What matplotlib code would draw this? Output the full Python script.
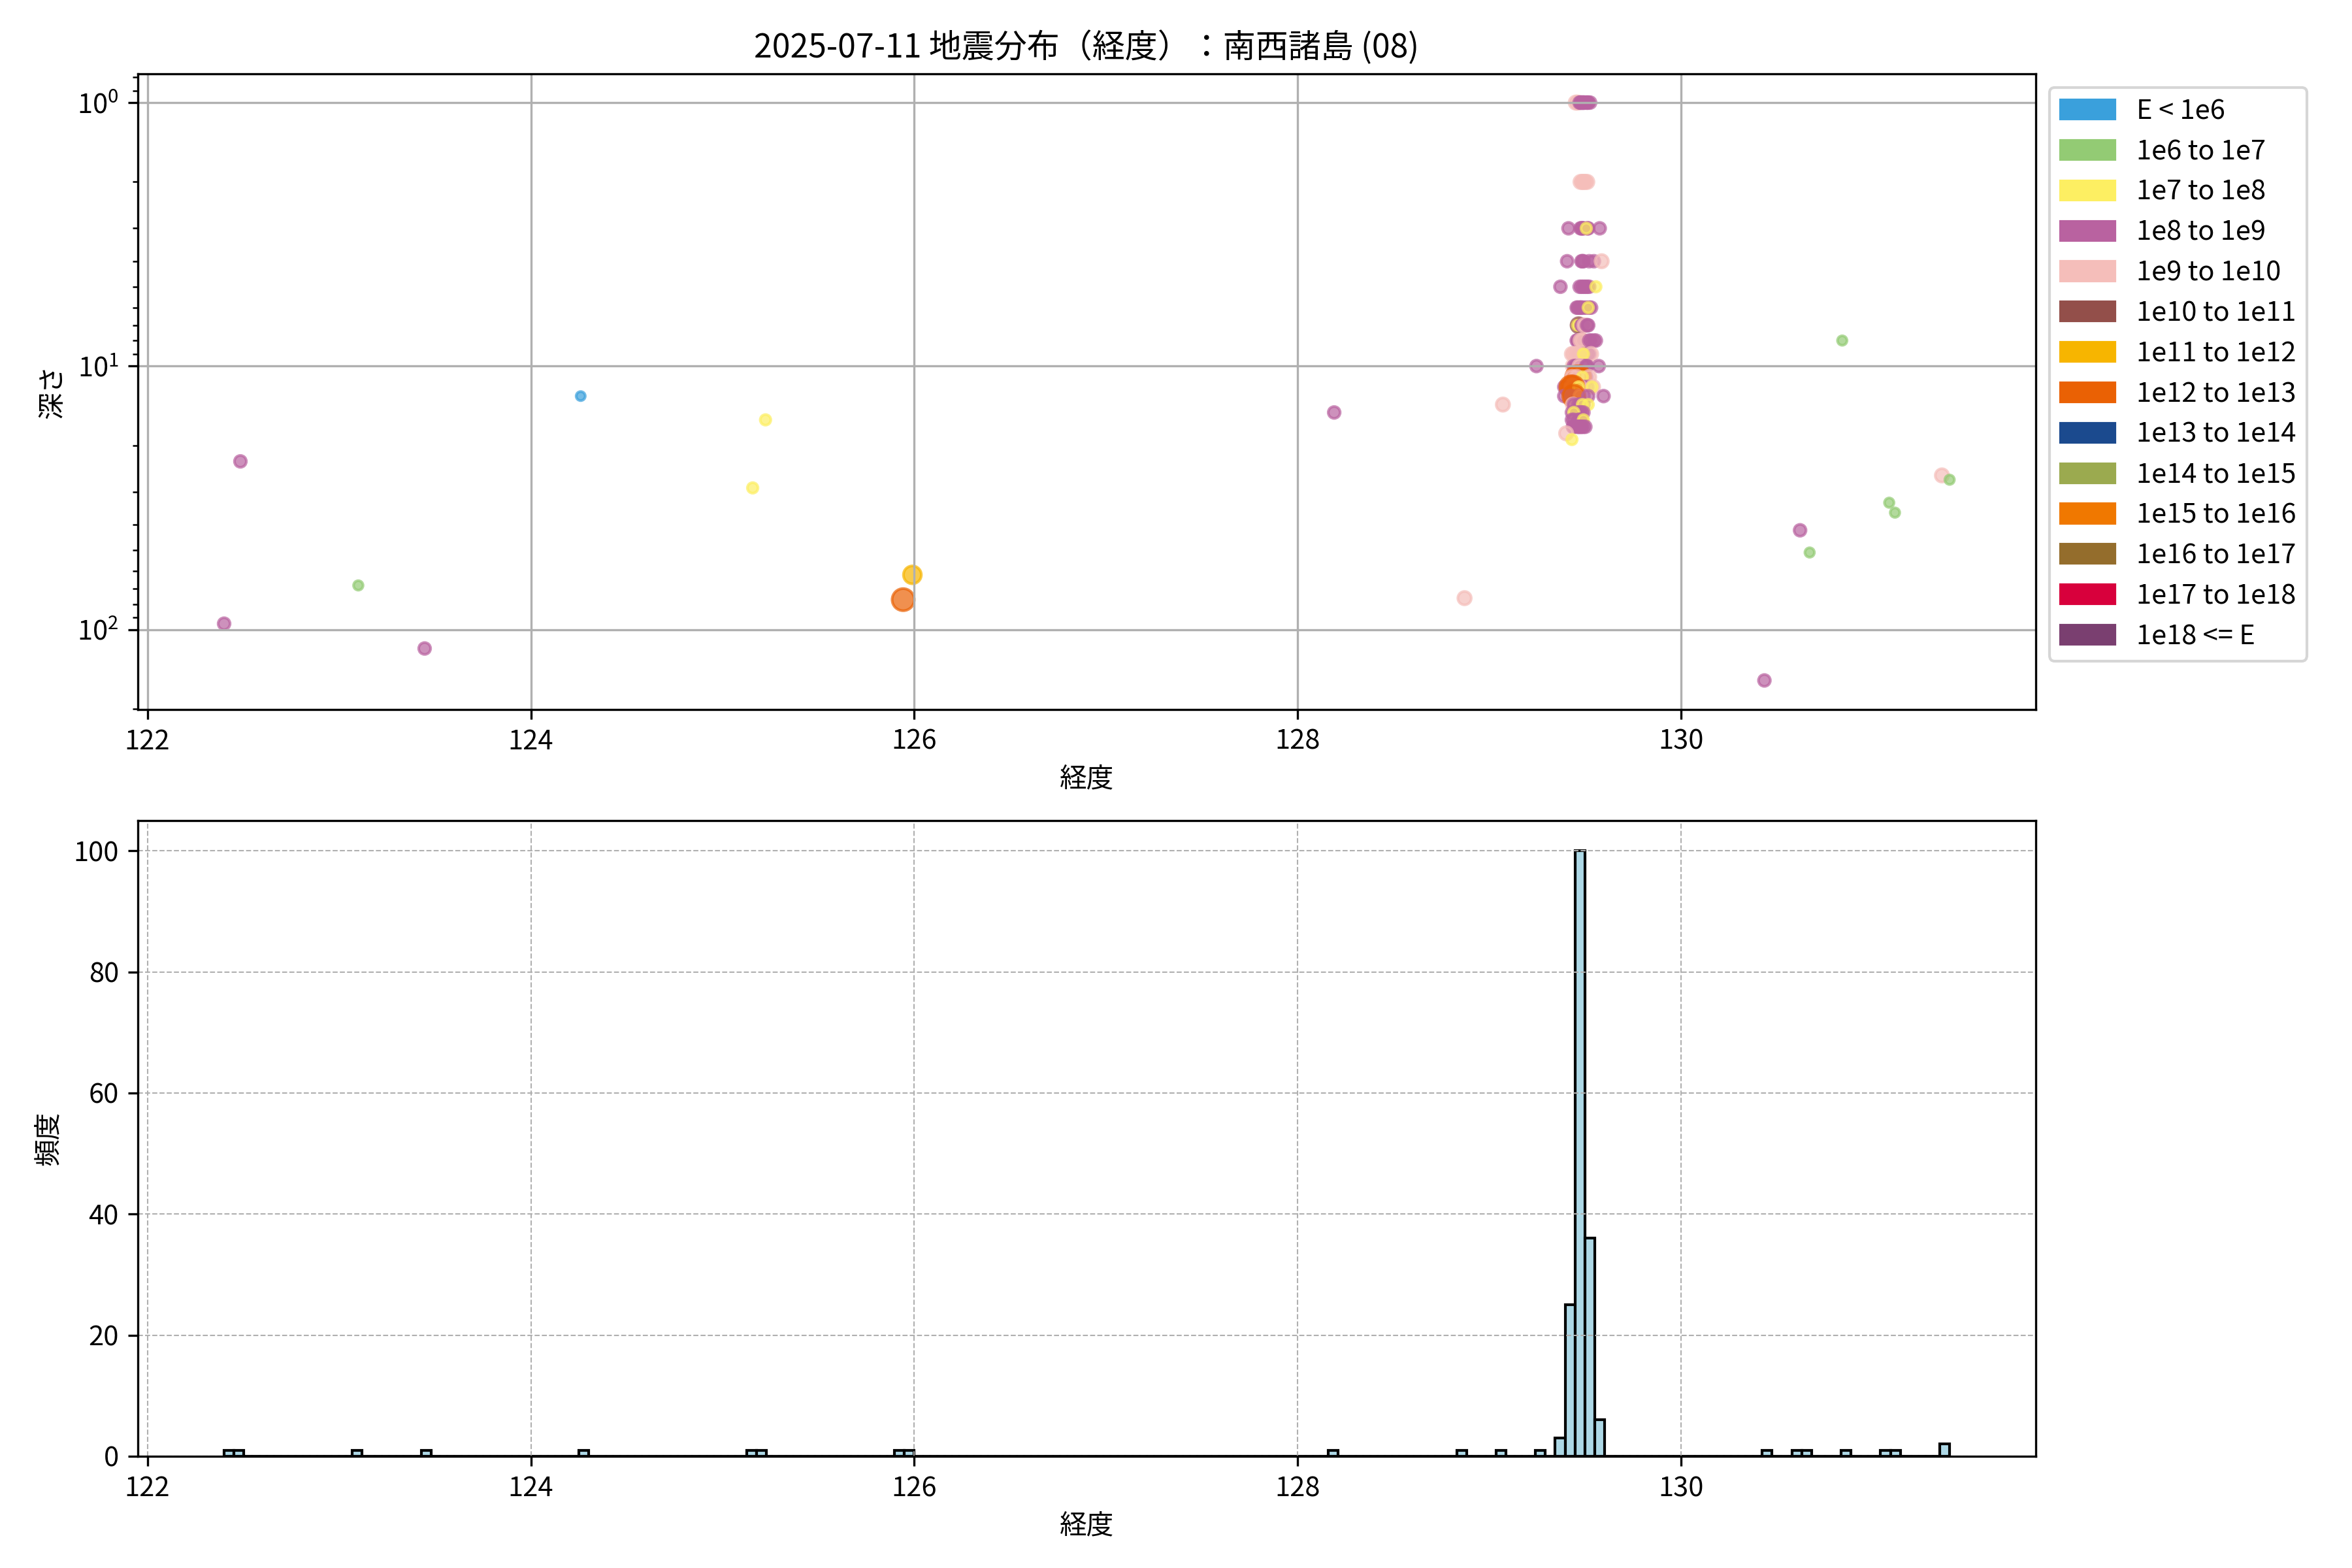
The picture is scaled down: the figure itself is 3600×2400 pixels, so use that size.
#Depth vs longitude scatter and longitude histogram for one day of quakes
import matplotlib
matplotlib.use('Agg')
import matplotlib.pyplot as plt
import matplotlib.patches as mpatches

plt.rcParams['font.family'] = ['Noto Sans CJK JP', 'DejaVu Sans']
plt.rcParams['mathtext.fontset'] = 'custom'
plt.rcParams['mathtext.rm'] = 'Noto Sans CJK JP'

title = '2025-07-11 地震分布（経度）：南西諸島 (08)'

# energy classes (index into these lists)
class_labels = ['E < 1e6', '1e6 to 1e7', '1e7 to 1e8', '1e8 to 1e9', '1e9 to 1e10',
                '1e10 to 1e11', '1e11 to 1e12', '1e12 to 1e13', '1e13 to 1e14',
                '1e14 to 1e15', '1e15 to 1e16', '1e16 to 1e17', '1e17 to 1e18', '1e18 <= E']
class_colors = ['#3aa0dc', '#93cb74', '#fdef62', '#b962a0', '#f5beba', '#934f4a', '#f7b500',
                '#ea6104', '#1b4a8e', '#9baa4f', '#f07800', '#946d2c', '#d8003c', '#7a3f70']
class_sizes = [11, 12, 15, 19, 24, 31, 43, 66, 80, 95, 110, 130, 150, 170]

# events away from the main cluster
out_lon = [122.40, 122.485, 123.10, 123.446, 124.26, 125.224, 125.157, 125.99, 125.942,
           128.19, 128.87, 129.07, 129.245, 130.434, 130.62, 130.67, 130.84,
           131.085, 131.115, 131.36, 131.40]
out_dep = [95, 23, 68, 118, 13, 16, 29, 62, 77,
           15, 76, 14, 10, 156, 42, 51, 8,
           33, 36, 26, 27]
out_cls = [3, 3, 1, 3, 0, 2, 2, 6, 7,
           3, 4, 4, 3, 3, 3, 1, 1,
           1, 1, 4, 1]

# main cluster, written row by row (depth in km)
clu_lon = [
    129.45, 129.46, 129.475, 129.48, 129.485, 129.49, 129.495, 129.47, 129.48, 129.49, 129.505, 129.515, 129.525, 129.51,
    129.475, 129.485, 129.50, 129.51, 129.49,
    129.412, 129.475, 129.48, 129.485, 129.49, 129.51, 129.515, 129.575, 129.505,
    129.405, 129.48, 129.485, 129.49, 129.52, 129.545, 129.585,
    129.37, 129.47, 129.48, 129.49, 129.50, 129.51, 129.52, 129.555,
    129.455, 129.46, 129.47, 129.475, 129.48, 129.49, 129.505, 129.52, 129.53, 129.515,
    129.465, 129.46, 129.47, 129.48, 129.485, 129.49, 129.495, 129.51, 129.515,
    129.455, 129.46, 129.465, 129.47, 129.48, 129.49, 129.475, 129.485, 129.52, 129.53, 129.545, 129.555,
    129.465, 129.47, 129.48, 129.485, 129.49, 129.51, 129.52, 129.43, 129.44, 129.455, 129.46, 129.475, 129.53, 129.49,
    129.435, 129.44, 129.45, 129.455, 129.46, 129.465, 129.47, 129.475, 129.48, 129.485, 129.49, 129.47, 129.505, 129.51, 129.57,
    129.44, 129.465, 129.475, 129.48, 129.49, 129.505, 129.455, 129.47, 129.43, 129.455, 129.52, 129.485,
    129.39, 129.44, 129.46, 129.475, 129.48, 129.49, 129.51, 129.43, 129.47, 129.54, 129.425, 129.435, 129.465, 129.535,
    129.39, 129.42, 129.43, 129.46, 129.47, 129.48, 129.49, 129.475, 129.44, 129.515, 129.595,
    129.435, 129.44, 129.465, 129.475, 129.48, 129.49, 129.485, 129.515,
    129.43, 129.46, 129.47, 129.48, 129.49, 129.44,
    129.43, 129.44, 129.465, 129.47, 129.48, 129.49,
    129.435, 129.44, 129.46, 129.465, 129.475, 129.48, 129.49, 129.50,
    129.40,
    129.43,
]
clu_dep = ([1] * 14 + [2] * 5 + [3] * 9 + [4] * 7 + [5] * 8 + [6] * 10 + [7] * 9 + [8] * 12
           + [9] * 14 + [10] * 15 + [11] * 12 + [12] * 14 + [13] * 11 + [14] * 8 + [15] * 6
           + [16] * 6 + [17] * 8 + [18] * 1 + [19] * 1)
clu_cls = [
    4, 4, 3, 3, 3, 3, 3, 3, 3, 3, 3, 3, 3, 3,
    4, 4, 4, 4, 4,
    3, 3, 3, 3, 3, 3, 3, 3, 2,
    3, 3, 3, 3, 3, 3, 4,
    3, 3, 3, 3, 3, 3, 3, 2,
    3, 3, 3, 3, 3, 3, 3, 3, 3, 2,
    5, 2, 2, 3, 3, 3, 4, 3, 3,
    3, 3, 3, 3, 3, 3, 4, 4, 3, 3, 3, 3,
    3, 3, 3, 3, 3, 3, 3, 4, 4, 4, 4, 4, 4, 2,
    4, 3, 3, 3, 3, 3, 3, 3, 3, 3, 3, 4, 3, 3, 3,
    3, 3, 3, 3, 3, 3, 7, 7, 4, 4, 4, 2,
    3, 3, 3, 3, 3, 3, 3, 4, 4, 4, 7, 7, 2, 2,
    3, 3, 3, 3, 3, 3, 3, 4, 7, 3, 3,
    4, 3, 3, 3, 3, 3, 2, 2,
    3, 3, 3, 3, 3, 2,
    3, 3, 3, 3, 3, 2,
    3, 3, 3, 3, 3, 3, 3, 3,
    4,
    2,
]

lon = out_lon + clu_lon
depth = out_dep + clu_dep
ecls = out_cls + clu_cls

fig, (ax1, ax2) = plt.subplots(2, 1, figsize=(12, 8))
fig.subplots_adjust(left=0.0586, right=0.8656, top=0.953, bottom=0.0713, hspace=0.175)

# scatter: depth vs longitude
ax1.scatter(lon, depth, c=[class_colors[k] for k in ecls], s=[class_sizes[k] for k in ecls], alpha=0.7)
ax1.set_yscale('log')
ax1.invert_yaxis()
ax1.set_xlabel('経度')
ax1.set_ylabel('深さ')
ax1.set_title(title)
ax1.grid(True)

handles = [mpatches.Patch(color=c, label=l) for c, l in zip(class_colors, class_labels)]
ax1.legend(handles=handles, loc='upper left', bbox_to_anchor=(1, 1))

# histogram of longitudes
ax2.hist(lon, bins=175, color='lightblue', edgecolor='black')
ax2.set_xlabel('経度')
ax2.set_ylabel('頻度')
ax2.grid(True, linestyle='--', linewidth=0.5)

fig.savefig('out.png', dpi=300)
